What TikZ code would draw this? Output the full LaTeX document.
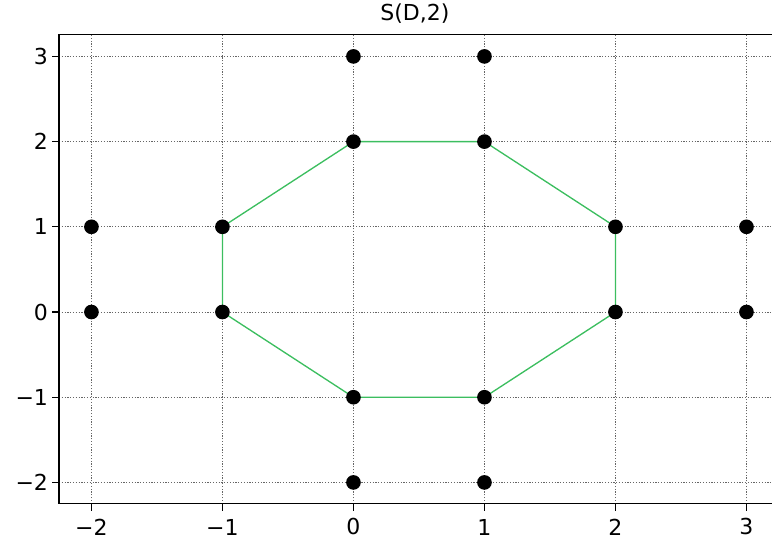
\documentclass[tikz,border=0pt]{standalone}
\usepackage{fontspec}
\setmainfont{DejaVu Sans}

\definecolor{hullgreen}{RGB}{60,190,95}

\begin{document}
\begin{tikzpicture}[
    x=98.25pt,y=63.9pt,
    gridline/.style={
        draw=black!60,
        line width=0.75pt,
        dash pattern=on 0.9pt off 1.2pt
    },
    spine/.style={line width=0.9pt,line cap=rect},
    axtick/.style={line width=0.9pt},
    dot/.style={circle,fill,inner sep=0pt,minimum size=11pt},
    hull/.style={draw=hullgreen,line width=1pt},
    lbl/.style={font=\fontsize{16.5}{19}\selectfont,inner sep=0pt}
]

% ------------------------------------------------
% Frame of the axes
% ------------------------------------------------
\useasboundingbox (-2.698,-2.758) rectangle (3.195,3.662);

\def\xmin{-2.248}
\def\xmax{3.195}
\def\ymin{-2.250}
\def\ymax{3.258}

% dotted grid
\foreach \i in {-2,...,3}
    \draw[gridline] (\i,\ymin) -- (\i,\ymax);
\foreach \j in {-2,...,3}
    \draw[gridline] (\xmin,\j) -- (\xmax,\j);

% spines (right one is cut off)
\draw[spine] (\xmax,\ymax) -- (\xmin,\ymax) -- (\xmin,\ymin) -- (\xmax,\ymin);

% ticks and tick labels
\foreach \i/\t in {-2/−2,-1/−1,0/0,1/1,2/2,3/3} {
    \draw[axtick] (\i,\ymin) -- ++(0,-5.3pt);
    \node[lbl] (xl\i) at (\i,-2.523) {\t};
}
\foreach \j/\t in {-2/−2,-1/−1,0/0,1/1,2/2,3/3} {
    \draw[axtick] (\xmin,\j) -- ++(-5.3pt,0);
    \node[lbl,anchor=east] (yl\j) at (-2.33,\j) {\t};
}

% title
\node[lbl] (title) at (0.469,3.50) {S(D,2)};

% ------------------------------------------------
% Points: octagon vertices and outer points
% ------------------------------------------------
\coordinate (v1) at (0,2);
\coordinate (v2) at (1,2);
\coordinate (v3) at (2,1);
\coordinate (v4) at (2,0);
\coordinate (v5) at (1,-1);
\coordinate (v6) at (0,-1);
\coordinate (v7) at (-1,0);
\coordinate (v8) at (-1,1);

\coordinate (t1) at (0,3);
\coordinate (t2) at (1,3);
\coordinate (l1) at (-2,1);
\coordinate (l2) at (-2,0);
\coordinate (r1) at (3,1);
\coordinate (r2) at (3,0);
\coordinate (b1) at (0,-2);
\coordinate (b2) at (1,-2);

% green hull
\draw[hull] (v1) -- (v2) -- (v3) -- (v4) -- (v5) -- (v6) -- (v7) -- (v8) -- cycle;

% dots
\foreach \P in {v1,v2,v3,v4,v5,v6,v7,v8,t1,t2,l1,l2,r1,r2,b1,b2}
    \node[dot] (d\P) at (\P) {};

\end{tikzpicture}
\end{document}
